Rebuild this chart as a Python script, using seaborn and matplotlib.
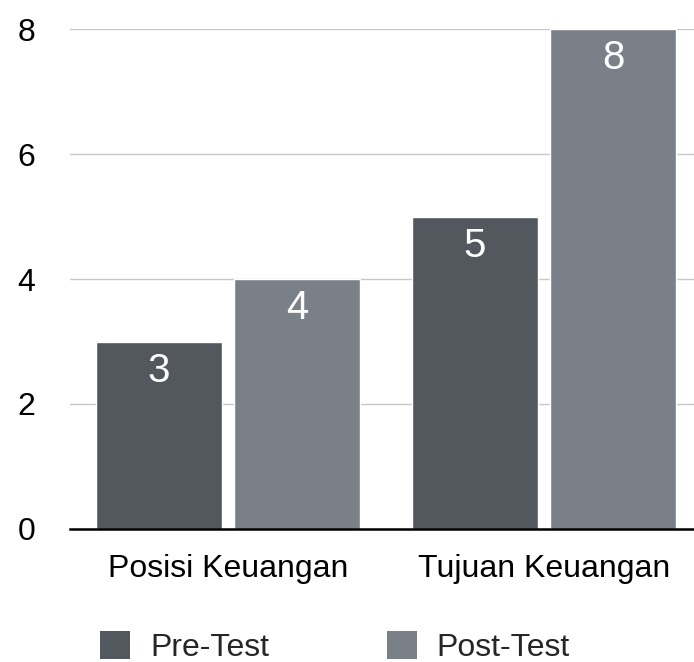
import pandas as pd
import seaborn as sns
import matplotlib.pyplot as plt
from matplotlib.patches import Patch

# data
categories = ["Posisi Keuangan", "Tujuan Keuangan"]
pre_test = [3, 5]
post_test = [4, 8]
series = ["Pre-Test", "Post-Test"]
colors = ["#53575e", "#7a8088"]

df = pd.DataFrame({
    "kategori": categories * 2,
    "nilai": pre_test + post_test,
    "tes": [series[0]] * len(categories) + [series[1]] * len(categories),
})

sns.set_theme(style="white")
plt.rcParams["font.family"] = ["Liberation Sans", "DejaVu Sans"]

fig = plt.figure(figsize=(6.94, 6.62), dpi=100)
ax = fig.add_axes([0.101, 0.201, 0.899, 0.755])

sns.barplot(data=df, x="kategori", y="nilai", hue="tes", palette=colors,
            width=0.875, gap=0.09, saturation=1, legend=False, ax=ax)

ax.set_ylim(0, 8)
ax.set_xlim(-0.5, 1.475)
ax.set_yticks([0, 2, 4, 6, 8])
ax.yaxis.grid(True, color="#c8c8c8", linewidth=1.0)
ax.set_axisbelow(True)
ax.set_xlabel("")
ax.set_ylabel("")
for s in ["left", "right", "top"]:
    ax.spines[s].set_visible(False)
ax.spines["bottom"].set_color("black")
ax.spines["bottom"].set_linewidth(1.8)
ax.tick_params(axis="y", length=0, pad=25, labelsize=23, labelcolor="black")
ax.tick_params(axis="x", length=0, pad=18, labelsize=23, labelcolor="black")

# value labels inside bars
for cont in ax.containers:
    for bar in cont:
        h = bar.get_height()
        ax.annotate(f"{h:.0f}", (bar.get_x() + bar.get_width() / 2, h),
                    xytext=(0, -21), textcoords="offset points",
                    ha="center", va="center", color="white", fontsize=29)

handles = [Patch(facecolor=c, edgecolor="none", label=l) for c, l in zip(colors, series)]
fig.legend(handles=handles, loc="lower center", bbox_to_anchor=(0.483, -0.045),
           ncol=2, frameon=False, fontsize=23, handlelength=0.94,
           handleheight=0.94, handletextpad=0.63, columnspacing=3.66)

fig.savefig("out.png", dpi=100)
